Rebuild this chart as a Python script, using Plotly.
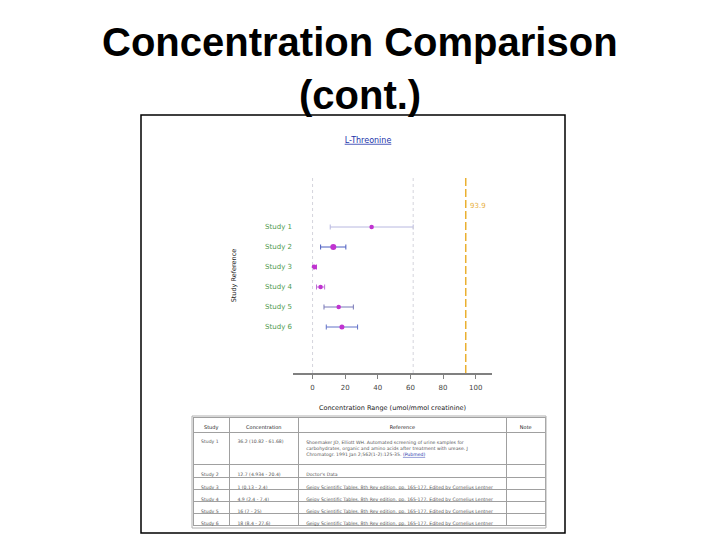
import plotly.graph_objects as go

# ---------------- data ----------------
studies = ["Study 1", "Study 2", "Study 3", "Study 4", "Study 5", "Study 6"]
conc = [36.2, 12.7, 1, 4.9, 16, 18]
low = [10.82, 4.934, 0.13, 2.4, 7, 8.4]
high = [61.68, 20.4, 2.4, 7.4, 25, 27.6]
bar_colors = ["#b8b8e0", "#4a5cc0", "#c040d0", "#c070d8", "#7878b8", "#6070c8"]
marker_sizes = [4.5, 6, 5, 4.5, 4.5, 5]
patient_value = 93.9
references = [
    "Shoemaker JD, Elliott WH. Automated screening of urine samples for<br>"
    "carbohydrates, organic and amino acids after treatment with urease. J<br>"
    "Chromatogr. 1991 Jan 2;562(1-2):125-35. "
    "<span style='color:#2233aa;text-decoration:underline'>(Pubmed)</span>",
    "Doctor's Data",
    "Geigy Scientific Tables, 8th Rev edition, pp. 165-177. Edited by Cornelius Lentner",
    "Geigy Scientific Tables, 8th Rev edition, pp. 165-177. Edited by Cornelius Lentner",
    "Geigy Scientific Tables, 8th Rev edition, pp. 165-177. Edited by Cornelius Lentner",
    "Geigy Scientific Tables, 8th Rev edition, pp. 165-177. Edited by Cornelius Lentner",
]
notes = ["", "", "", "", "", ""]
table_headers = ["Study", "Concentration", "Reference", "Note"]

W, H = 720, 540
def px(x):
    return x / W
def py(y):
    return 1 - y / H

fig = go.Figure()

for i, s in enumerate(studies):
    fig.add_trace(go.Scatter(
        x=[conc[i]], y=[s], mode="markers",
        marker=dict(color="#c033d0", size=marker_sizes[i], symbol="circle"),
        error_x=dict(type="data", symmetric=False,
                     array=[high[i] - conc[i]], arrayminus=[conc[i] - low[i]],
                     color=bar_colors[i], thickness=1, width=2.5),
        showlegend=False, hoverinfo="x+y",
    ))

conc_text = [f"{c:g} ({l:g} - {h:g})" for c, l, h in zip(conc, low, high)]

fig.add_trace(go.Table(
    domain=dict(x=[px(193), px(545)], y=[py(527), py(417)]),
    columnwidth=[36, 68, 206, 38],
    header=dict(values=table_headers, height=15,
                align=["center"] * 4,
                font=dict(family="DejaVu Sans", size=5, color="#222222"),
                fill_color="white", line=dict(color="#a0a0a0", width=1)),
    cells=dict(values=[studies, conc_text, references, notes], height=12.2,
               align=["left", "left", "left", "left"],
               font=dict(family="DejaVu Sans", size=4.6, color="#555555"),
               fill_color="white", line=dict(color="#a0a0a0", width=1)),
))

# reference lines: range extremes (light dotted) and patient value (gold dashed)
for xv in [0, max(high)]:
    fig.add_shape(type="line", xref="x", yref="y domain", x0=xv, x1=xv, y0=0, y1=1,
                  line=dict(color="#d4d4dc", width=1, dash="dot"))
fig.add_shape(type="line", xref="x", yref="y domain", x0=patient_value, x1=patient_value,
              y0=0, y1=1, line=dict(color="#eab030", width=1.5, dash="8px,3px"))
fig.add_annotation(x=patient_value, xref="x", y=0.856, yref="y domain",
                   text=f"{patient_value:g}", showarrow=False,
                   xanchor="left", yanchor="middle", xshift=2,
                   font=dict(family="DejaVu Sans", size=7, color="#e8b040"))

# frame around embedded image
fig.add_shape(type="rect", xref="paper", yref="paper",
              x0=px(141), x1=px(565), y0=py(533), y1=py(115),
              line=dict(color="black", width=1.5))
# outer border of table
fig.add_shape(type="rect", xref="paper", yref="paper",
              x0=px(192), x1=px(546), y0=py(528), y1=py(416),
              line=dict(color="#b0b0b0", width=1))

# slide title
fig.add_annotation(x=0.5, xref="paper", y=py(42), yref="paper",
                   text="<b>Concentration Comparison</b>", showarrow=False,
                   xanchor="center", yanchor="middle",
                   font=dict(family="Liberation Sans", size=40, color="black"))
fig.add_annotation(x=0.5, xref="paper", y=py(95), yref="paper",
                   text="<b>(cont.)</b>", showarrow=False,
                   xanchor="center", yanchor="middle",
                   font=dict(family="Liberation Sans", size=40, color="black"))

fig.update_layout(
    width=W, height=H,
    margin=dict(l=0, r=0, t=0, b=0),
    paper_bgcolor="white", plot_bgcolor="white",
    title=dict(text="<span style='text-decoration:underline'>L-Threonine</span>",
               x=px(368), y=py(140), xanchor="center", yanchor="middle",
               font=dict(family="DejaVu Sans", size=8, color="#2233aa")),
    xaxis=dict(domain=[px(293), px(492)], range=[-12, 110], dtick=20,
               showgrid=False, zeroline=False,
               showline=True, linecolor="#808080", linewidth=2,
               ticks="outside", ticklen=4, tickcolor="#808080",
               ticklabelstandoff=3,
               tickfont=dict(family="DejaVu Sans", size=7, color="#444444"),
               title=dict(text="Concentration Range (umol/mmol creatinine)", standoff=14,
                          font=dict(family="DejaVu Sans", size=6.5, color="#222222"))),
    yaxis=dict(domain=[py(373), py(178)], type="category",
               categoryorder="array", categoryarray=studies,
               range=[7.3, -2.45], showgrid=False, zeroline=False, showline=False,
               ticks="", ticklabelstandoff=0,
               tickfont=dict(family="DejaVu Sans", size=7, color="#4e9a4e"),
               title=dict(text="Study Reference", standoff=27,
                          font=dict(family="DejaVu Sans", size=6.5, color="#222222"))),
)

fig.write_html("out.html", config={"displayModeBar": False},
               post_script="document.body.style.margin='0px';")
